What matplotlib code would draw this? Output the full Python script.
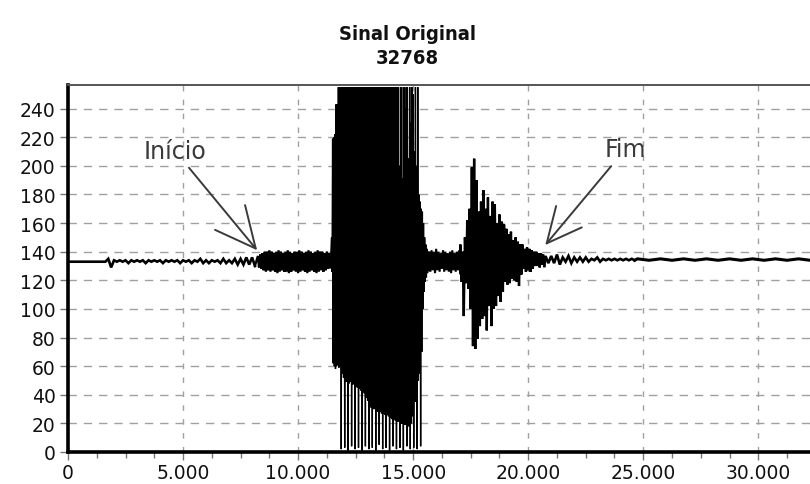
import numpy as np
import matplotlib.pyplot as plt
from matplotlib.ticker import FuncFormatter, MultipleLocator

# Waveform stored per column: first sample, column spacing (samples),
# and the highest / lowest value reached inside each column.
lead_x0, lead_step = 0, 250
lead_hi = [133, 133, 133, 133, 133, 133, 133, 135, 134, 134,
           134, 134, 134, 134, 134, 134, 134, 134, 134, 134,
           134, 134, 134, 135, 134, 134, 134, 135, 134, 135,
           135, 136, 136]
lead_lo = [133, 133, 133, 133, 133, 133, 133, 129, 133, 133,
           132, 133, 133, 132, 133, 133, 132, 133, 133, 132,
           133, 132, 133, 132, 132, 133, 132, 132, 132, 131,
           131, 131, 130]

pre_x0, pre_step = 8250, 100
pre_hi = [137, 138, 139, 140, 140, 141, 140, 139, 140, 141,
          140, 139, 140, 141, 140, 139, 140, 140, 141, 140,
          139, 140, 141, 140, 139, 140, 141, 140, 140, 139,
          140, 139]
pre_lo = [129, 128, 127, 126, 127, 126, 127, 126, 125, 126,
          127, 126, 126, 125, 126, 127, 126, 125, 126, 127,
          126, 125, 126, 127, 126, 125, 126, 127, 126, 127,
          128, 129]

burst_x0, burst_step = 11450, 50
burst_hi = [150, 219, 220, 222, 243, 243] + [255] * 52 + \
           [255, 200, 255, 255, 191, 255, 240, 255, 255, 205,
            255, 230, 255, 250, 210, 255, 200, 255, 180, 175,
            170, 168, 160, 150, 145, 142, 140]
burst_lo = [126, 62, 60, 58, 60, 61, 59, 60, 2, 55,
            52, 3, 49, 50, 1, 48, 49, 4, 47, 48,
            2, 46, 45, 3, 44, 43, 1, 42, 41, 4,
            38, 36, 2, 33, 31, 3, 30, 30, 1, 29,
            28, 5, 28, 27, 2, 27, 26, 3, 26, 25,
            1, 24, 23, 4, 23, 22, 2, 21, 21, 3,
            20, 20, 1, 19, 19, 4, 18, 18, 2, 20,
            25, 3, 35, 45, 2, 50, 55, 4, 70, 100,
            112, 119, 122, 125, 127]

mid_x0, mid_step = 15700, 100
mid_hi = [140, 141, 140, 142, 140, 139, 141, 140, 139, 140, 141, 139, 140, 141]
mid_lo = [126, 127, 125, 127, 126, 128, 126, 127, 126, 125, 127, 126, 127, 125]

tail_burst_x0, tail_burst_step = 17050, 100
tail_burst_hi = [145, 140, 150, 162, 170, 199, 205, 190, 168, 175,
                 183, 170, 178, 165, 175, 173, 160, 166, 161, 159,
                 156, 152, 154, 148, 150, 147, 145, 145, 142, 143,
                 142, 141, 140, 140, 139, 139, 138]
tail_burst_lo = [119, 95, 118, 114, 100, 74, 72, 79, 88, 93,
                 95, 85, 102, 88, 100, 102, 109, 105, 112, 119,
                 117, 118, 121, 120, 119, 116, 124, 128, 126, 127,
                 126, 128, 130, 130, 129, 131, 130]

decay_x0, decay_step = 20750, 250
decay_hi = [137, 137, 138, 136, 137, 136, 136, 136, 135, 136, 135, 135, 135, 135, 135, 135]
decay_lo = [132, 132, 131, 133, 132, 133, 133, 133, 134, 133, 134, 134, 134, 134, 134, 134]

end_x0, end_step = 24750, 1000
end_hi = [135, 135, 135, 135, 135, 135, 135, 135, 135]
end_lo = [134, 134, 134, 134, 134, 134, 134, 134, 134]

n_samples = 32768
y_ticks = list(range(0, 241, 20))
x_ticks = list(range(0, 30001, 5000))


def zigzag(x0, step, hi, lo):
    # each column is drawn as a stroke from its max down to its min
    x = x0 + step * np.arange(len(hi))
    xs = np.column_stack([x, x + step / 2]).ravel()
    ys = np.column_stack([hi, lo]).ravel()
    return xs, ys


# (segment, line width) -- quiet stretches drawn heavier, like the trace
segments = [
    ((lead_x0, lead_step, lead_hi, lead_lo), 1.9),
    ((pre_x0, pre_step, pre_hi, pre_lo), 1.6),
    ((burst_x0, burst_step, burst_hi, burst_lo), 1.0),
    ((mid_x0, mid_step, mid_hi, mid_lo), 1.5),
    ((tail_burst_x0, tail_burst_step, tail_burst_hi, tail_burst_lo), 1.7),
    ((decay_x0, decay_step, decay_hi, decay_lo), 1.9),
    ((end_x0, end_step, end_hi, end_lo), 2.2),
]

fig = plt.figure(figsize=(8.1, 4.85), dpi=100)
ax = fig.add_axes([68 / 810, 32 / 485, 754 / 810, 367 / 485])

prev = None
for seg, lw in segments:
    xs, ys = zigzag(*seg)
    if prev is not None:
        # join with the last point of the previous stretch
        xs = np.concatenate([[prev[0]], xs])
        ys = np.concatenate([[prev[1]], ys])
    ax.plot(xs, ys, color='black', lw=lw, solid_joinstyle='miter')
    prev = (xs[-1], ys[-1])

ax.set_xlim(0, n_samples)
ax.set_ylim(0, 256.5)
ax.set_yticks(y_ticks)
ax.set_xticks(x_ticks)
ax.xaxis.set_minor_locator(MultipleLocator(1250))
ax.xaxis.set_major_formatter(FuncFormatter(lambda v, p: f"{int(v):,}".replace(",", ".")))

ax.set_axisbelow(True)
ax.grid(True, axis='y', color='#a0a0a0', lw=1.0, linestyle=(0, (6, 5)))
ax.grid(True, axis='x', color='#a0a0a0', lw=1.0, linestyle=(0, (4, 6)))

ax.spines['left'].set_linewidth(2.6)
ax.spines['bottom'].set_linewidth(2.6)
ax.spines['top'].set_linewidth(1.4)
ax.spines['top'].set_color('#555555')
ax.spines['right'].set_visible(False)

ax.tick_params(axis='y', direction='out', length=6, width=1, pad=3,
               labelsize=13.5, labelcolor='#111111', color='#777777')
ax.tick_params(axis='x', which='major', direction='out', length=6, width=1, pad=2,
               labelsize=13.5, labelcolor='#111111', color='#777777')
ax.tick_params(axis='x', which='minor', direction='out', length=4, width=1, color='#777777')
for lab in ax.get_xticklabels() + ax.get_yticklabels():
    lab.set_family('DejaVu Sans')

arrow_col = '#3a3a3a'
ax.annotate('Início', xy=(8220, 141), xytext=(4650, 210.5), ha='center', va='center',
            fontsize=17, color=arrow_col, family='DejaVu Sans',
            arrowprops=dict(arrowstyle='->,head_length=1.45,head_width=0.7',
                            mutation_scale=20, color=arrow_col, lw=1.4,
                            shrinkA=2, shrinkB=0))
ax.annotate('Fim', xy=(20740, 144.6), xytext=(24220, 211.6), ha='center', va='center',
            fontsize=17, color=arrow_col, family='DejaVu Sans',
            arrowprops=dict(arrowstyle='->,head_length=1.25,head_width=0.6',
                            mutation_scale=20, color=arrow_col, lw=1.4,
                            shrinkA=2, shrinkB=0))

fig.text(0.503, 1 - 35 / 485, 'Sinal Original', ha='center', va='center',
         fontsize=14.5, fontweight='bold', fontstretch='condensed',
         family='DejaVu Sans', color='#111111')
fig.text(0.503, 1 - 58 / 485, '32768', ha='center', va='center',
         fontsize=14.5, fontweight='bold', fontstretch='condensed',
         family='DejaVu Sans', color='#111111')

fig.savefig('out.png', dpi=100)
